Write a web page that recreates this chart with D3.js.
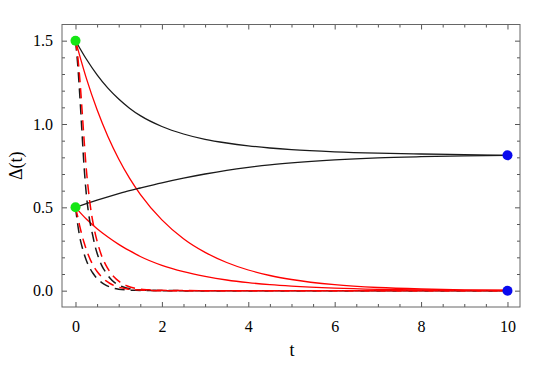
<!DOCTYPE html>
<html>
<head>
<meta charset="utf-8">
<script src="https://cdn.jsdelivr.net/npm/d3@7"></script>
<style>
  body { margin: 0; background: #fff; }
  svg { display: block; }
</style>
</head>
<body>
<svg id="chart" width="539" height="380"></svg>
<script>
// sample times for the slow (solid) curves
var tSolid = [0, 0.25, 0.5, 0.75, 1, 1.25, 1.5, 2, 2.5, 3, 3.5, 4, 4.5, 5, 6, 7, 8, 9, 10];
var blackUpper = [1.5, 1.39, 1.295, 1.215, 1.15, 1.095, 1.05, 0.985, 0.94, 0.908, 0.886, 0.869, 0.856, 0.846, 0.833, 0.825, 0.82, 0.816, 0.812];
var blackLower = [0.5, 0.522, 0.543, 0.563, 0.582, 0.600, 0.616, 0.647, 0.675, 0.700, 0.722, 0.740, 0.755, 0.767, 0.785, 0.797, 0.804, 0.809, 0.812];
var redUpper = [1.5, 1.275, 1.085, 0.925, 0.79, 0.675, 0.578, 0.425, 0.312, 0.23, 0.169, 0.124, 0.091, 0.067, 0.036, 0.019, 0.01, 0.005, 0.003];
var redLower = [0.5, 0.43, 0.372, 0.322, 0.278, 0.24, 0.205, 0.152, 0.114, 0.086, 0.064, 0.048, 0.036, 0.027, 0.015, 0.008, 0.004, 0.002, 0.001];

// sample times for the fast (dashed) curves
var tDashed = [0, 0.05, 0.1, 0.15, 0.2, 0.25, 0.3, 0.35, 0.4, 0.45, 0.5, 0.6, 0.7, 0.8, 0.9, 1, 1.2, 1.4, 1.7, 2, 3, 10];
var blackDashUpper = [1.5, 1.36, 1.17, 0.95, 0.74, 0.58, 0.47, 0.39, 0.33, 0.27, 0.225, 0.155, 0.11, 0.075, 0.05, 0.034, 0.014, 0.006, 0.002, 0.001, 0, 0];
var redDashUpper = [1.5, 1.41, 1.27, 1.09, 0.9, 0.73, 0.6, 0.495, 0.415, 0.35, 0.297, 0.213, 0.155, 0.112, 0.08, 0.057, 0.028, 0.013, 0.005, 0.002, 0, 0];
var blackDashLower = [0.5, 0.40, 0.32, 0.265, 0.22, 0.183, 0.152, 0.127, 0.106, 0.088, 0.073, 0.05, 0.033, 0.022, 0.014, 0.009, 0.004, 0.002, 0.001, 0, 0, 0];
var redDashLower = [0.5, 0.445, 0.385, 0.333, 0.287, 0.247, 0.212, 0.182, 0.156, 0.134, 0.115, 0.084, 0.06, 0.043, 0.03, 0.021, 0.01, 0.005, 0.002, 0, 0, 0];

var startPoints = [[0, 1.5], [0, 0.5]];
var endPoints = [[10, 0.812], [10, 0]];

var xMajor = [0, 2, 4, 6, 8, 10];
var xMinor = [0.5, 1, 1.5, 2.5, 3, 3.5, 4.5, 5, 5.5, 6.5, 7, 7.5, 8.5, 9, 9.5];
var yMajor = [0, 0.5, 1.0, 1.5];
var yMinor = [0.1, 0.2, 0.3, 0.4, 0.6, 0.7, 0.8, 0.9, 1.1, 1.2, 1.3, 1.4];

(function() {
  var serif = "Tinos, 'Liberation Serif', 'DejaVu Serif', serif";
  var svg = d3.select("#chart");
  var L = 62, R = 520, T = 24.5, B = 307;

  var x = d3.scaleLinear().domain([-0.3125, 10.29]).range([L, R]);
  var y = d3.scaleLinear().domain([-0.098, 1.597]).range([B, T]);

  function styleAxis(g) {
    g.select(".domain").remove();
    g.selectAll("line").attr("stroke", "#555").attr("stroke-width", 1);
    g.attr("font-size", 16).attr("font-family", serif);
    g.selectAll("text").attr("fill", "#000");
  }

  // minor ticks first, then major with labels; all ticks point inward
  svg.append("g").attr("transform", "translate(0," + B + ")")
    .call(d3.axisBottom(x).tickValues(xMinor).tickSizeInner(-3).tickSizeOuter(0).tickFormat(""))
    .call(styleAxis);
  svg.append("g").attr("transform", "translate(0," + B + ")")
    .call(d3.axisBottom(x).tickValues(xMajor).tickSizeInner(-5).tickSizeOuter(0).tickPadding(14).tickFormat(d3.format("d")))
    .call(styleAxis);
  svg.append("g").attr("transform", "translate(0," + T + ")")
    .call(d3.axisTop(x).tickValues(xMinor).tickSizeInner(-3).tickSizeOuter(0).tickFormat(""))
    .call(styleAxis);
  svg.append("g").attr("transform", "translate(0," + T + ")")
    .call(d3.axisTop(x).tickValues(xMajor).tickSizeInner(-5).tickSizeOuter(0).tickFormat(""))
    .call(styleAxis);

  svg.append("g").attr("transform", "translate(" + L + ",0)")
    .call(d3.axisLeft(y).tickValues(yMinor).tickSizeInner(-3).tickSizeOuter(0).tickFormat(""))
    .call(styleAxis);
  svg.append("g").attr("transform", "translate(" + L + ",0)")
    .call(d3.axisLeft(y).tickValues(yMajor).tickSizeInner(-5).tickSizeOuter(0).tickPadding(9).tickFormat(d3.format(".1f")))
    .call(styleAxis);
  svg.append("g").attr("transform", "translate(" + R + ",0)")
    .call(d3.axisRight(y).tickValues(yMinor).tickSizeInner(-3).tickSizeOuter(0).tickFormat(""))
    .call(styleAxis);
  svg.append("g").attr("transform", "translate(" + R + ",0)")
    .call(d3.axisRight(y).tickValues(yMajor).tickSizeInner(-5).tickSizeOuter(0).tickFormat(""))
    .call(styleAxis);

  // frame
  svg.append("rect")
    .attr("x", L).attr("y", T)
    .attr("width", R - L).attr("height", B - T)
    .attr("fill", "none").attr("stroke", "#666").attr("stroke-width", 1);

  var line = d3.line()
    .x(function(d) { return x(d[0]); })
    .y(function(d) { return y(d[1]); })
    .curve(d3.curveMonotoneX);

  function zip(ts, vs) {
    return ts.map(function(t, i) { return [t, vs[i]]; });
  }

  var curves = [
    { pts: zip(tSolid, redUpper), color: "#ff0000", dash: null },
    { pts: zip(tSolid, redLower), color: "#ff0000", dash: null },
    { pts: zip(tSolid, blackUpper), color: "#1a1a1a", dash: null },
    { pts: zip(tSolid, blackLower), color: "#1a1a1a", dash: null },
    { pts: zip(tDashed, blackDashUpper), color: "#1a1a1a", dash: "10,6" },
    { pts: zip(tDashed, blackDashLower), color: "#1a1a1a", dash: "10,6" },
    { pts: zip(tDashed, redDashUpper), color: "#ff0000", dash: "10,6" },
    { pts: zip(tDashed, redDashLower), color: "#ff0000", dash: "10,6" }
  ];

  var plot = svg.append("g");
  plot.selectAll("path.curve")
    .data(curves)
    .enter()
    .append("path")
    .attr("class", "curve")
    .attr("d", function(d) { return line(d.pts); })
    .attr("fill", "none")
    .attr("stroke", function(d) { return d.color; })
    .attr("stroke-width", function(d) { return d.dash ? 1.5 : 1.3; })
    .attr("stroke-dasharray", function(d) { return d.dash; });

  plot.selectAll("circle.start")
    .data(startPoints)
    .enter()
    .append("circle")
    .attr("class", "start")
    .attr("cx", function(d) { return x(d[0]); })
    .attr("cy", function(d) { return y(d[1]); })
    .attr("r", 5)
    .attr("fill", "#14e614");

  plot.selectAll("circle.end")
    .data(endPoints)
    .enter()
    .append("circle")
    .attr("class", "end")
    .attr("cx", function(d) { return x(d[0]); })
    .attr("cy", function(d) { return y(d[1]); })
    .attr("r", 5)
    .attr("fill", "#0a0aee");

  // axis labels
  svg.append("text")
    .attr("x", (L + R) / 2 + 1)
    .attr("y", 356)
    .attr("text-anchor", "middle")
    .attr("font-family", serif)
    .attr("font-size", 18)
    .text("t");

  svg.append("text")
    .attr("transform", "translate(22," + ((T + B) / 2) + ") rotate(-90)")
    .attr("text-anchor", "middle")
    .attr("font-family", serif)
    .attr("font-size", 18)
    .text("Δ(t)");
})();
</script>
</body>
</html>
